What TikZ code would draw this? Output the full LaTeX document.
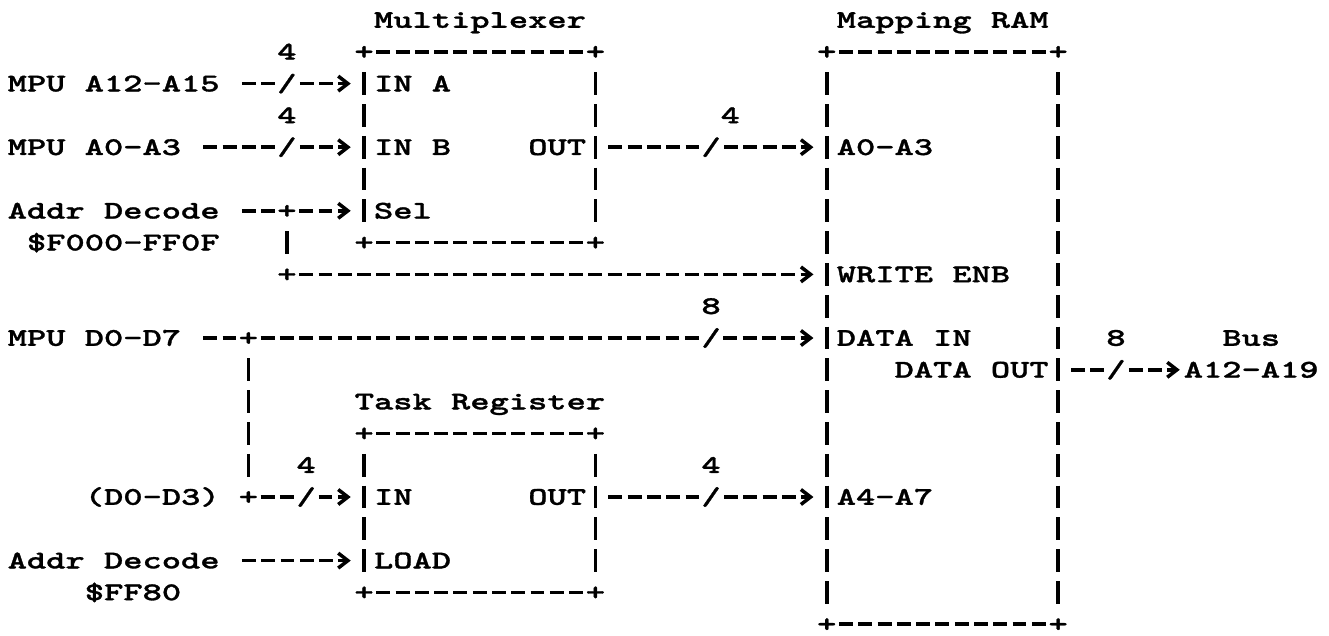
\documentclass[tikz,border=0pt]{standalone}
\usepackage{fontspec}
\newfontfamily\ascfam{lmmonolt10-bold.otf}[FakeStretch=1.44, FakeBold=1.2]
\newcommand\ascfont{\ascfam\fontsize{14.5pt}{18pt}\selectfont}
\usetikzlibrary{arrows.meta}
\begin{document}
\begin{tikzpicture}[x=0.3856cm, y=-0.636cm,
  hl/.style={line width=2pt, dash pattern=on 7.9pt off 3.071pt},
  vl/.style={line width=2pt, dash pattern=on 12.9pt off 5.196pt, shorten <=11.646pt, shorten >=11.646pt},
  arr/.style={-{Straight Barb[length=5.5pt,width=8.5pt]}},
  lab/.style={font=\ascfont, inner sep=0pt, text height=8.86pt, text depth=0pt, anchor=west},
  ch/.style={font=\ascfont, inner sep=0pt, text height=8.86pt, text depth=0pt, anchor=center},
  slash/.style={ch, fill=white},
  sA/.style={shorten <=12.51pt},
  sJ/.style={shorten <=7.02pt},
  eP/.style={shorten >=13.05pt},
  eJ/.style={shorten >=7.02pt}]
\useasboundingbox (-0.8817,-0.629) rectangle (68.05,19.34);

% titles
\node[lab] (t-mux) at (18.5,0) {Multiplexer};
\node[lab] (t-ram) at (42.5,0) {Mapping RAM};
\node[lab] (t-task) at (17.5,12) {Task Register};

% box corners
\node[ch] (mux-tl) at (18,1) {+};
\node[ch] (mux-tr) at (30,1) {+};
\node[ch] (mux-bl) at (18,7) {+};
\node[ch] (mux-br) at (30,7) {+};
\node[ch] (ram-tl) at (42,1) {+};
\node[ch] (ram-tr) at (54,1) {+};
\node[ch] (ram-bl) at (42,19) {+};
\node[ch] (ram-br) at (54,19) {+};
\node[ch] (task-tl) at (18,13) {+};
\node[ch] (task-tr) at (30,13) {+};
\node[ch] (task-bl) at (18,18) {+};
\node[ch] (task-br) at (30,18) {+};

% box edges
\foreach \b in {mux,ram,task}{
  \draw[hl,sJ,eJ] (\b-tl.center) -- (\b-tr.center);
  \draw[hl,sJ,eJ] (\b-bl.center) -- (\b-br.center);
  \draw[vl] (\b-tl.center) -- (\b-bl.center);
  \draw[vl] (\b-tr.center) -- (\b-br.center);
}

% ports
\node[lab] (p-ina) at (18.5,2) {IN A};
\node[lab] (p-inb) at (18.5,4) {IN B};
\node[lab] (p-mout) at (26.5,4) {OUT};
\node[lab] (p-sel) at (18.5,6) {Sel};
\node[lab] (p-a0) at (42.5,4) {A0-A3};
\node[lab] (p-we) at (42.5,8) {WRITE ENB};
\node[lab] (p-din) at (42.5,10) {DATA IN};
\node[lab] (p-dout) at (45.5,11) {DATA OUT};
\node[lab] (p-a4) at (42.5,15) {A4-A7};
\node[lab] (p-tin) at (18.5,15) {IN};
\node[lab] (p-tout) at (26.5,15) {OUT};
\node[lab] (p-load) at (18.5,17) {LOAD};

% signal labels
\node[lab] (l-a12) at (-0.5,2) {MPU A12-A15};
\node[lab] (l-a0) at (-0.5,4) {MPU A0-A3};
\node[lab] (l-dec1) at (-0.5,6) {Addr Decode};
\node[lab] (l-f000) at (0.5,7) {\$F000-FF0F};
\node[lab] (l-d07) at (-0.5,10) {MPU D0-D7};
\node[lab] (l-d03) at (3.5,15) {(D0-D3)};
\node[lab] (l-dec2) at (-0.5,17) {Addr Decode};
\node[lab] (l-ff80) at (3.5,18) {\$FF80};
\node[lab] (l-bus) at (62.5,10) {Bus};
\node[lab] (l-a19) at (60.5,11) {A12-A19};

% bus widths
\node[ch] (w1) at (14,1) {4};
\node[ch] (w2) at (14,3) {4};
\node[ch] (w3) at (37,3) {4};
\node[ch] (w4) at (36,9) {8};
\node[ch] (w5) at (57,10) {8};
\node[ch] (w6) at (15,14) {4};
\node[ch] (w7) at (36,14) {4};

% junctions
\node[ch] (j1) at (14,6) {+};
\node[ch] (j2) at (14,8) {+};
\node[ch] (j3) at (12,10) {+};
\node[ch] (j4) at (12,15) {+};

% connectors
\draw[hl,arr,sA,eP] (l-a12.east) -- (p-ina.west);
\draw[hl,arr,sA,eP] (l-a0.east) -- (p-inb.west);
\draw[hl,sA,eJ] (l-dec1.east) -- (j1.center);
\draw[hl,arr,sJ,eP] (j1.center) -- (p-sel.west);
\draw[vl] (j1.center) -- (j2.center);
\draw[hl,arr,sJ,eP] (j2.center) -- (p-we.west);
\draw[hl,sA,eJ] (l-d07.east) -- (j3.center);
\draw[hl,arr,sJ,eP] (j3.center) -- (p-din.west);
\draw[vl] (j3.center) -- (j4.center);
\draw[hl,arr,sJ,eP] (j4.center) -- (p-tin.west);
\draw[hl,arr,sA,eP] (l-dec2.east) -- (p-load.west);
\draw[hl,arr,sA,eP] (p-mout.east) -- (p-a0.west);
\draw[hl,arr,sA,eP] (p-tout.east) -- (p-a4.west);
\draw[hl,arr,sA,shorten >=2.08pt] (p-dout.east) -- (l-a19.west);

% bus slash marks
\node[slash] (s1) at (14,2) {/};
\node[slash] (s2) at (14,4) {/};
\node[slash] (s3) at (36,4) {/};
\node[slash] (s4) at (36,10) {/};
\node[slash] (s5) at (15,15) {/};
\node[slash] (s6) at (36,15) {/};
\node[slash] (s7) at (57,11) {/};
\end{tikzpicture}
\end{document}
